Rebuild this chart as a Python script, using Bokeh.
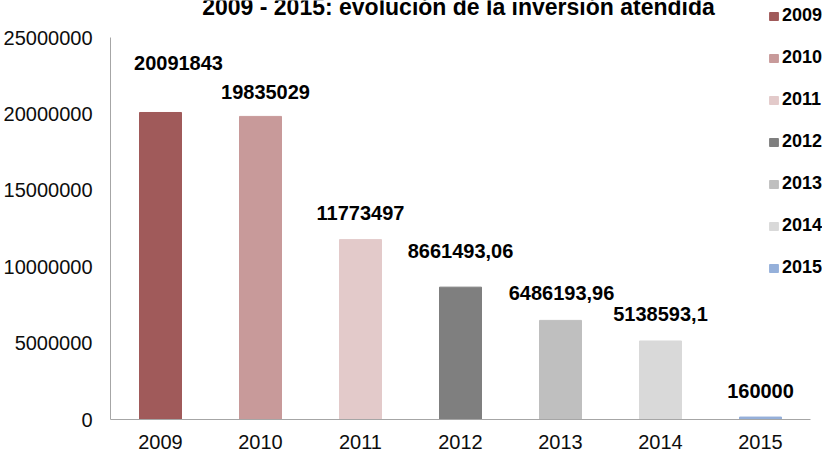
from bokeh.plotting import figure
from bokeh.models import ColumnDataSource, FixedTicker, NumeralTickFormatter, Label, Range1d, Legend, LegendItem
from bokeh.core.properties import value
from bokeh.embed import file_html
from bokeh.resources import INLINE

# ---- data ----
years = ["2009", "2010", "2011", "2012", "2013", "2014", "2015"]
inversion = [20091843, 19835029, 11773497, 8661493.06, 6486193.96, 5138593.1, 160000]
value_labels = ["20091843", "19835029", "11773497", "8661493,06", "6486193,96", "5138593,1", "160000"]
y_ticks = [0, 5000000, 10000000, 15000000, 20000000, 25000000]
title_text = "2009 - 2015: evolución de la inversión atendida"

# ---- styles ----
colors = ["#A05A5A", "#C89A9A", "#E3CACA", "#7F7F7F", "#BFBFBF", "#D9D9D9", "#95B0DA"]
label_dx = [18, 5, 0, 0, 1, 0, 0]
label_dy = [-49, -24, -27, -36, -27, -27, -26]
FONT = "Liberation Sans"

# category slot positions (one slot per year)
xpos = [i + 0.5 for i in range(len(years))]

src = ColumnDataSource(dict(x=xpos, years=years, vals=inversion, labels=value_labels,
                            colors=colors, dx=label_dx, dy=label_dy))

p = figure(width=822, height=456, output_backend="svg",
           toolbar_location=None, min_border_left=110, min_border_right=0,
           min_border_top=0, min_border_bottom=37)
# frame spans extra room above/right so the title and legend are not clipped
p.x_range = Range1d(0, len(years) * 712 / 700)
p.y_range = Range1d(0, 25000000 * 419 / 382)
p.outline_line_color = None
p.grid.grid_line_color = None

bars = p.vbar(x="x", top="vals", width=0.42, color="colors", source=src)

p.text(x="x", y="vals", text="labels", x_offset="dx", y_offset="dy", source=src,
       text_align="center", text_baseline="middle", text_font=value(FONT),
       text_font_style="bold", text_font_size="20px", text_color="#000000")

# axes
p.yaxis.ticker = FixedTicker(ticks=y_ticks)
p.yaxis.formatter = NumeralTickFormatter(format="0")
p.yaxis.bounds = (0, 25000000)
p.xaxis.ticker = FixedTicker(ticks=xpos)
p.xaxis.major_label_overrides = {x: y for x, y in zip(xpos, years)}
p.xaxis.bounds = (0, len(years))
for ax in (p.xaxis[0], p.yaxis[0]):
    ax.axis_line_color = "#A6A6A6"
    ax.axis_line_width = 1
    ax.major_tick_line_color = None
    ax.minor_tick_line_color = None
    ax.major_tick_out = 0
    ax.major_tick_in = 0
    ax.major_label_text_font = FONT
    ax.major_label_text_font_size = "20px"
    ax.major_label_text_color = "#0d0d0d"
p.yaxis.major_label_standoff = 18
p.xaxis.major_label_standoff = 15

# legend
items = [LegendItem(label=y, renderers=[bars], index=i) for i, y in enumerate(years)]
lg = Legend(items=items, location=(658, 141))
lg.padding = 0
lg.margin = 0
lg.spacing = 21
lg.label_height = 21
lg.glyph_height = 10
lg.glyph_width = 11
lg.label_standoff = 3
lg.border_line_color = None
lg.background_fill_alpha = 0
lg.label_text_font = FONT
lg.label_text_font_style = "bold"
lg.label_text_font_size = "18px"
lg.label_text_color = "#000000"
p.add_layout(lg)

# title (top partially cut in the reference)
p.add_layout(Label(x=348, y=413, x_units="screen", y_units="screen", text=title_text,
                   text_align="center", text_baseline="alphabetic",
                   text_font=FONT, text_font_style="bold", text_font_size="23px",
                   text_color="#000000"))

open("out.html", "w").write(file_html(p, INLINE))
